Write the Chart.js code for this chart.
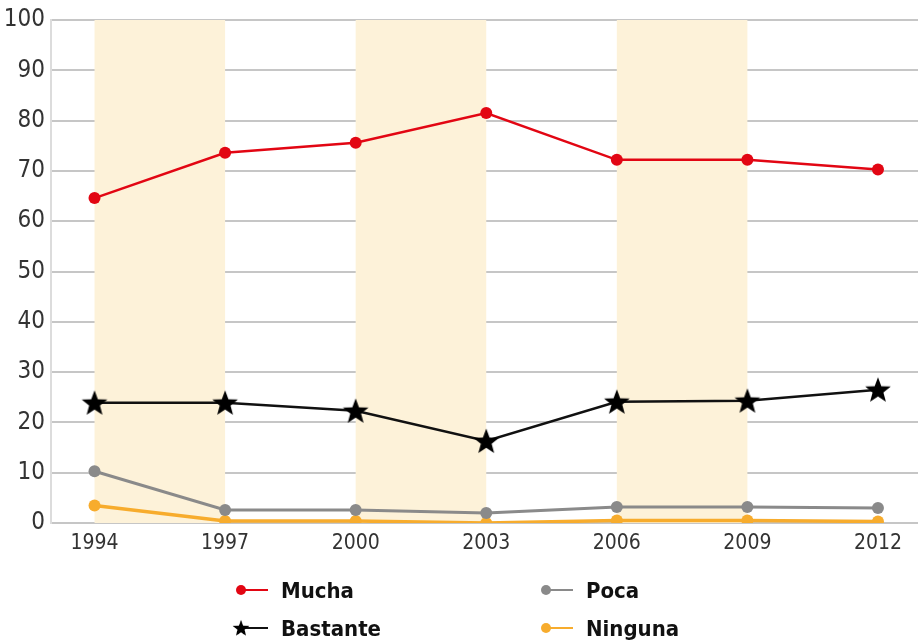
<!DOCTYPE html>
<html>
<head>
<meta charset="utf-8">
<script src="https://cdn.jsdelivr.net/npm/chart.js@4/dist/chart.umd.min.js"></script>
<style>
  html, body { margin: 0; padding: 0; background: #fff; }
  #wrap { position: relative; width: 920px; height: 644px; }
  #legend { position: absolute; left: 0; top: 0; width: 920px; height: 644px; pointer-events: none;
    font-family: "Liberation Sans Narrow", "DejaVu Sans Condensed", "Roboto", sans-serif;
    font-weight: bold; font-size: 22px; color: #111; }
  .item { position: absolute; display: flex; align-items: center; height: 30px; }
  .mark { position: relative; width: 32px; height: 30px; margin-right: 13px; }
  .mark .ln { position: absolute; left: 4px; right: 0; top: 14px; height: 2px; }
  .mark .dot { position: absolute; left: 0; top: 10px; width: 10px; height: 10px; border-radius: 50%; }
  .mark img { position: absolute; left: -4px; top: 6px; width: 18px; height: 18px; }
</style>
</head>
<body>
<div id="wrap">
  <canvas id="chart" width="920" height="644"></canvas>
  <div id="legend"></div>
</div>
<script>
// Survey years and shaded bands
const years = [1994, 1997, 2000, 2003, 2006, 2009, 2012];
const bands = [[1994, 1997], [2000, 2003], [2006, 2009]];
const yTicks = [0, 10, 20, 30, 40, 50, 60, 70, 80, 90, 100];

// Series values (%)
const mucha = [64.6, 73.6, 75.6, 81.5, 72.2, 72.2, 70.3];
const bastante = [23.9, 23.9, 22.3, 16.3, 24.1, 24.3, 26.5];
const poca = [10.3, 2.6, 2.6, 2.0, 3.2, 3.2, 3.0];
const ninguna = [3.5, 0.4, 0.4, 0.0, 0.5, 0.5, 0.3];

const FONT = '"Liberation Sans Narrow", "DejaVu Sans Condensed", "Roboto", sans-serif';

// Filled five point star for Bastante markers
function makeStar(size) {
  const c = document.createElement("canvas");
  c.width = size;
  c.height = size;
  const g = c.getContext("2d");
  const cx = size / 2, cy = size / 2 + 1;
  const outer = size / 2 - 0.5, inner = outer * 0.42;
  g.beginPath();
  for (let i = 0; i < 10; i++) {
    const r = i % 2 === 0 ? outer : inner;
    const a = -Math.PI / 2 + (i * Math.PI) / 5;
    const px = cx + r * Math.cos(a), py = cy + r * Math.sin(a);
    if (i === 0) g.moveTo(px, py); else g.lineTo(px, py);
  }
  g.closePath();
  g.fillStyle = "#000";
  g.fill();
  return c;
}
const star = makeStar(28);

function pts(values) {
  return values.map((v, i) => ({ x: years[i], y: v }));
}

// Shaded background bands
const bandPlugin = {
  id: "bands",
  beforeDatasetsDraw(chart) {
    const { ctx, scales } = chart;
    ctx.save();
    ctx.fillStyle = "#fdf2d9";
    bands.forEach(([a, b]) => {
      const x1 = scales.x.getPixelForValue(a);
      const x2 = scales.x.getPixelForValue(b);
      const top = scales.y.getPixelForValue(100);
      const bot = scales.y.getPixelForValue(0);
      ctx.fillRect(x1, top, x2 - x1, bot - top);
    });
    ctx.restore();
  },
};

const chart = new Chart(document.getElementById("chart"), {
  type: "line",
  data: {
    datasets: [
      {
        label: "Mucha",
        data: pts(mucha),
        borderColor: "#e20613",
        backgroundColor: "#e20613",
        borderWidth: 2.5,
        pointRadius: 6,
        pointBorderWidth: 0,
      },
      {
        label: "Bastante",
        data: pts(bastante),
        borderColor: "#111",
        backgroundColor: "#000",
        borderWidth: 2.5,
        pointStyle: star,
      },
      {
        label: "Poca",
        data: pts(poca),
        borderColor: "#8a8a8a",
        backgroundColor: "#8a8a8a",
        borderWidth: 3,
        pointRadius: 6,
        pointBorderWidth: 0,
      },
      {
        label: "Ninguna",
        data: pts(ninguna),
        borderColor: "#f7ac2d",
        backgroundColor: "#f7ac2d",
        borderWidth: 3.5,
        pointRadius: 6,
        pointBorderWidth: 0,
      },
    ],
  },
  options: {
    responsive: false,
    animation: false,
    layout: { autoPadding: false, padding: { top: 20, right: 2, bottom: 88, left: 0 } },
    plugins: { legend: { display: false }, tooltip: { enabled: false } },
    scales: {
      x: {
        type: "linear",
        min: 1993,
        max: 2012.92,
        afterBuildTicks: (s) => { s.ticks = years.map((v) => ({ value: v })); },
        afterFit: (s) => { s.height = 33; s.paddingLeft = 0; s.paddingRight = 0; },
        grid: { display: false, drawTicks: false },
        border: { display: false },
        ticks: {
          callback: (v) => String(v),
          color: "#333",
          padding: 8,
          font: { family: FONT, size: 21 },
        },
      },
      y: {
        min: 0,
        max: 100,
        afterBuildTicks: (s) => { s.ticks = yTicks.map((v) => ({ value: v })); },
        afterFit: (s) => { s.width = 51; s.paddingTop = 0; s.paddingBottom = 0; },
        grid: { color: "#c6c6c6", lineWidth: 2, drawTicks: false },
        border: { display: true, color: "#dcdcdc", width: 2 },
        ticks: {
          color: "#333",
          padding: 6,
          font: { family: FONT, size: 24 },
        },
      },
    },
  },
  plugins: [bandPlugin],
});

// HTML legend, two columns by two rows
const legendPos = [
  { left: 236, top: 575 },
  { left: 236, top: 613 },
  { left: 541, top: 575 },
  { left: 541, top: 613 },
];
const legend = document.getElementById("legend");
chart.data.datasets.forEach((ds, i) => {
  const item = document.createElement("div");
  item.className = "item";
  item.style.left = legendPos[i].left + "px";
  item.style.top = legendPos[i].top + "px";
  const mark = document.createElement("div");
  mark.className = "mark";
  const ln = document.createElement("div");
  ln.className = "ln";
  ln.style.background = ds.borderColor;
  mark.appendChild(ln);
  if (ds.pointStyle === star) {
    const img = document.createElement("img");
    img.src = star.toDataURL();
    mark.appendChild(img);
  } else {
    const dot = document.createElement("div");
    dot.className = "dot";
    dot.style.background = ds.backgroundColor;
    mark.appendChild(dot);
  }
  const txt = document.createElement("span");
  txt.textContent = ds.label;
  item.appendChild(mark);
  item.appendChild(txt);
  legend.appendChild(item);
});
</script>
</body>
</html>
